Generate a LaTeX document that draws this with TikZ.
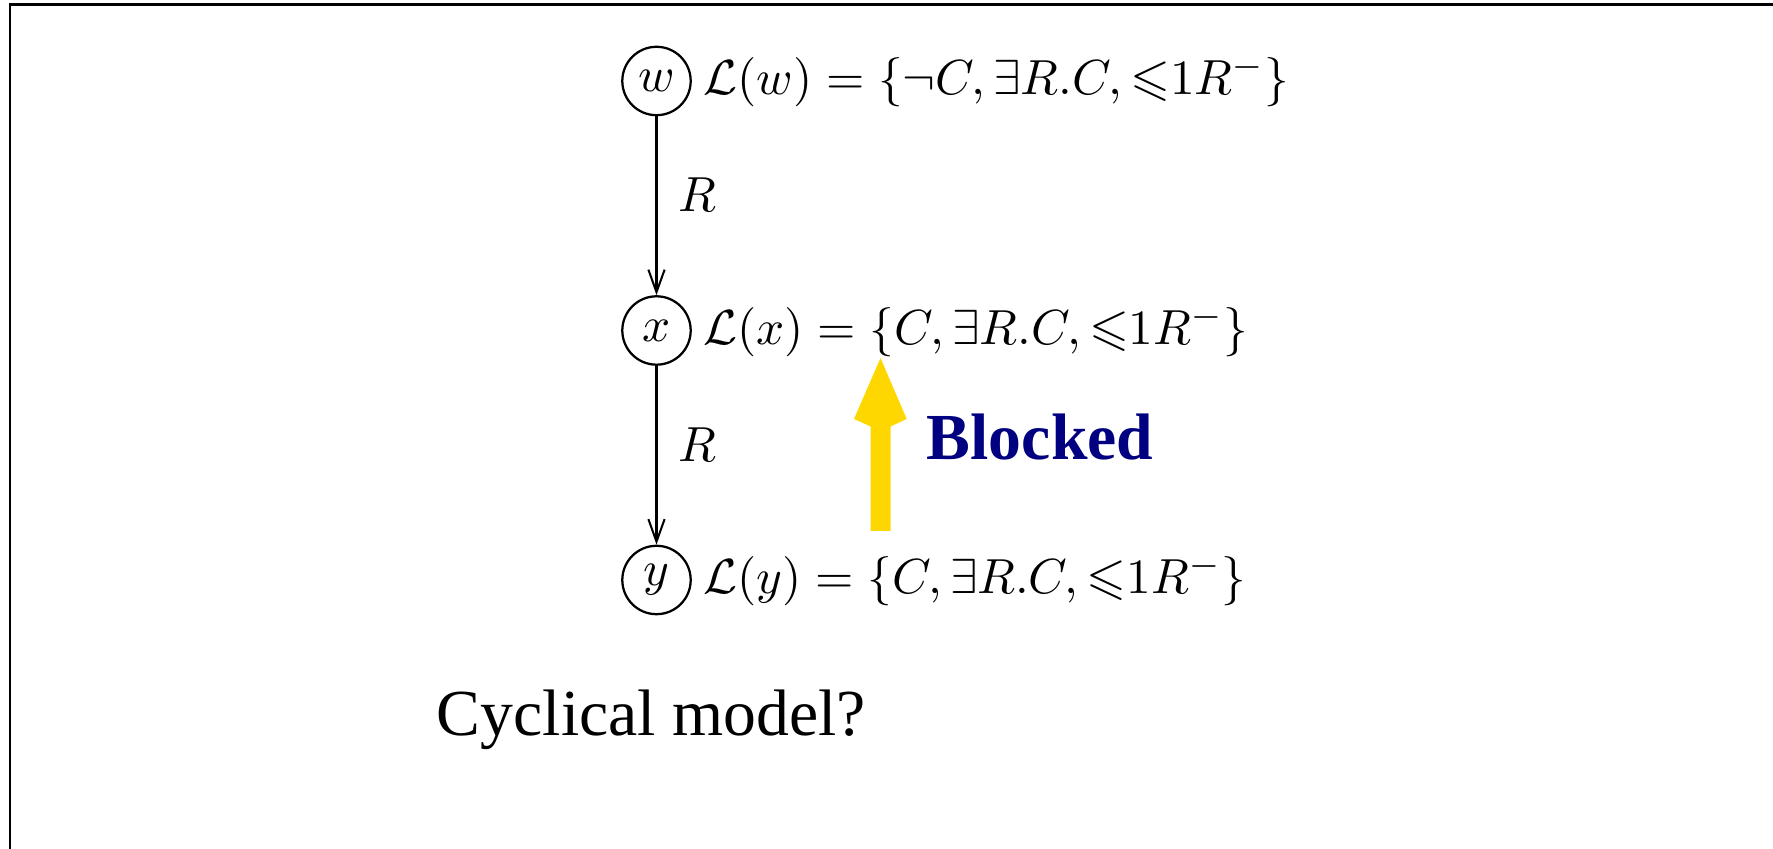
\documentclass[tikz,border=0pt]{standalone}
\usepackage{amssymb}
\usepackage[no-math]{fontspec}
\newfontfamily\timesfont{Liberation Serif}
\usetikzlibrary{arrows.meta}
\definecolor{blockyellow}{RGB}{255,215,0}
\definecolor{blocknavy}{RGB}{0,0,128}
\tikzset{
  statenode/.style={draw, circle, line width=0.5pt, minimum size=15.2pt, inner sep=0pt, font=\fontsize{11.2}{13}\selectfont},
  labelnode/.style={anchor=west, inner sep=0pt, font=\fontsize{11.4}{13}\selectfont},
  edgelabel/.style={anchor=west, inner sep=0pt, xshift=4.6pt, font=\fontsize{11.2}{13}\selectfont},
  relarrow/.style={-{Straight Barb[length=5pt,width=3.6pt]}, line width=0.45pt},
  framestyle/.style={line width=0.45pt},
  bigtext/.style={inner sep=0pt, font=\timesfont\fontsize{14.6}{17}\selectfont}
}
\begin{document}
\begin{tikzpicture}[x=0.2222pt, y=-0.2222pt]
\useasboundingbox (0,0) rectangle (1773,849);
% frame (only top and left edges visible)
\draw[framestyle] (9.7,900) -- (9.7,4.5) -- (1900,4.5);

% nodes
\node[statenode] (w) at (656.5,81) {$w$};
\node[statenode] (x) at (656.5,330.5) {$x$};
\node[statenode] (y) at (656.5,580) {$y$};

\node[labelnode] (lw) at ([xshift=2.4pt]w.east) {$\mathcal{L}(w)=\{\neg C,\exists R.C,{\leqslant}1R^-\}$};
\node[labelnode] (lx) at ([xshift=2.4pt]x.east) {$\mathcal{L}(x)=\{C,\exists R.C,{\leqslant}1R^-\}$};
\node[labelnode] (ly) at ([xshift=2.4pt]y.east) {$\mathcal{L}(y)=\{C,\exists R.C,{\leqslant}1R^-\}$};

\draw[relarrow] (w) -- node[edgelabel, pos=0.44] (r1) {$R$} (x);
\draw[relarrow] (x) -- node[edgelabel, pos=0.44] (r2) {$R$} (y);

% yellow block arrow
\fill[blockyellow] (880.5,358) -- (906.7,419) -- (890.5,426.5) -- (890.5,531)
  -- (870.7,531) -- (870.7,426.5) -- (854,419) -- cycle;

\node[bigtext, anchor=base west, text=blocknavy] (blocked) at (926,460) {\bfseries Blocked};
\node[bigtext, anchor=base west] (cyc) at (436,736) {Cyclical model?};
\end{tikzpicture}
\end{document}
